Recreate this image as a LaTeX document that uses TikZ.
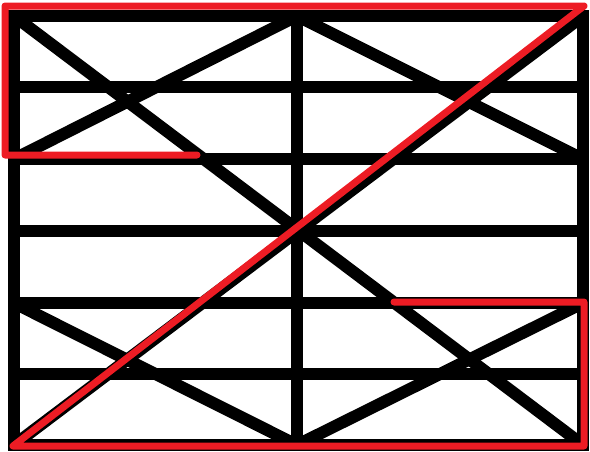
\documentclass[tikz,border=0pt]{standalone}
\usepackage{tikz}
\definecolor{paintred}{RGB}{237,28,36}

\begin{document}
\begin{tikzpicture}[
            x=1pt,
            y=-1pt,
            member/.style={
                draw=black,
                line width=12pt
            },
            trace/.style={
                draw=paintred,
                line width=7pt,
                line cap=round,
                line join=round
            }
        ]
            \useasboundingbox (0,0) rectangle (590,451);
            % corners of the frame
            \coordinate (tl) at (14,16);
            \coordinate (tr) at (583,16);
            \coordinate (bl) at (14,445);
            \coordinate (br) at (583,445);
            \coordinate (tm) at (297,16);
            \coordinate (bm) at (297,445);
            % bracing, kept inside the frame
            \begin{scope}
                \clip (tl) rectangle (br);
                \draw[member] (tl) -- (br);
                \draw[member] (tr) -- (bl);
                \draw[member] (14,159) -- (tm) -- (583,159);
                \draw[member] (14,303) -- (bm) -- (583,303);
            \end{scope}
            % bars
            \foreach \y in {87,159,231,303,374} {
                \draw[member] (14,\y) -- (583,\y);
            }
            \draw[member] (tm) -- (bm);
            \draw[member] (tl) rectangle (br);
            % red path
            \coordinate (start) at (197,155);
            \coordinate (finish) at (394,302);
            \draw[trace] (start) -- (5,155) -- (5,6) -- (584,6)
                -- (13,446) -- (584,446) -- (584,302) -- (finish);
        \end{tikzpicture}
\end{document}
